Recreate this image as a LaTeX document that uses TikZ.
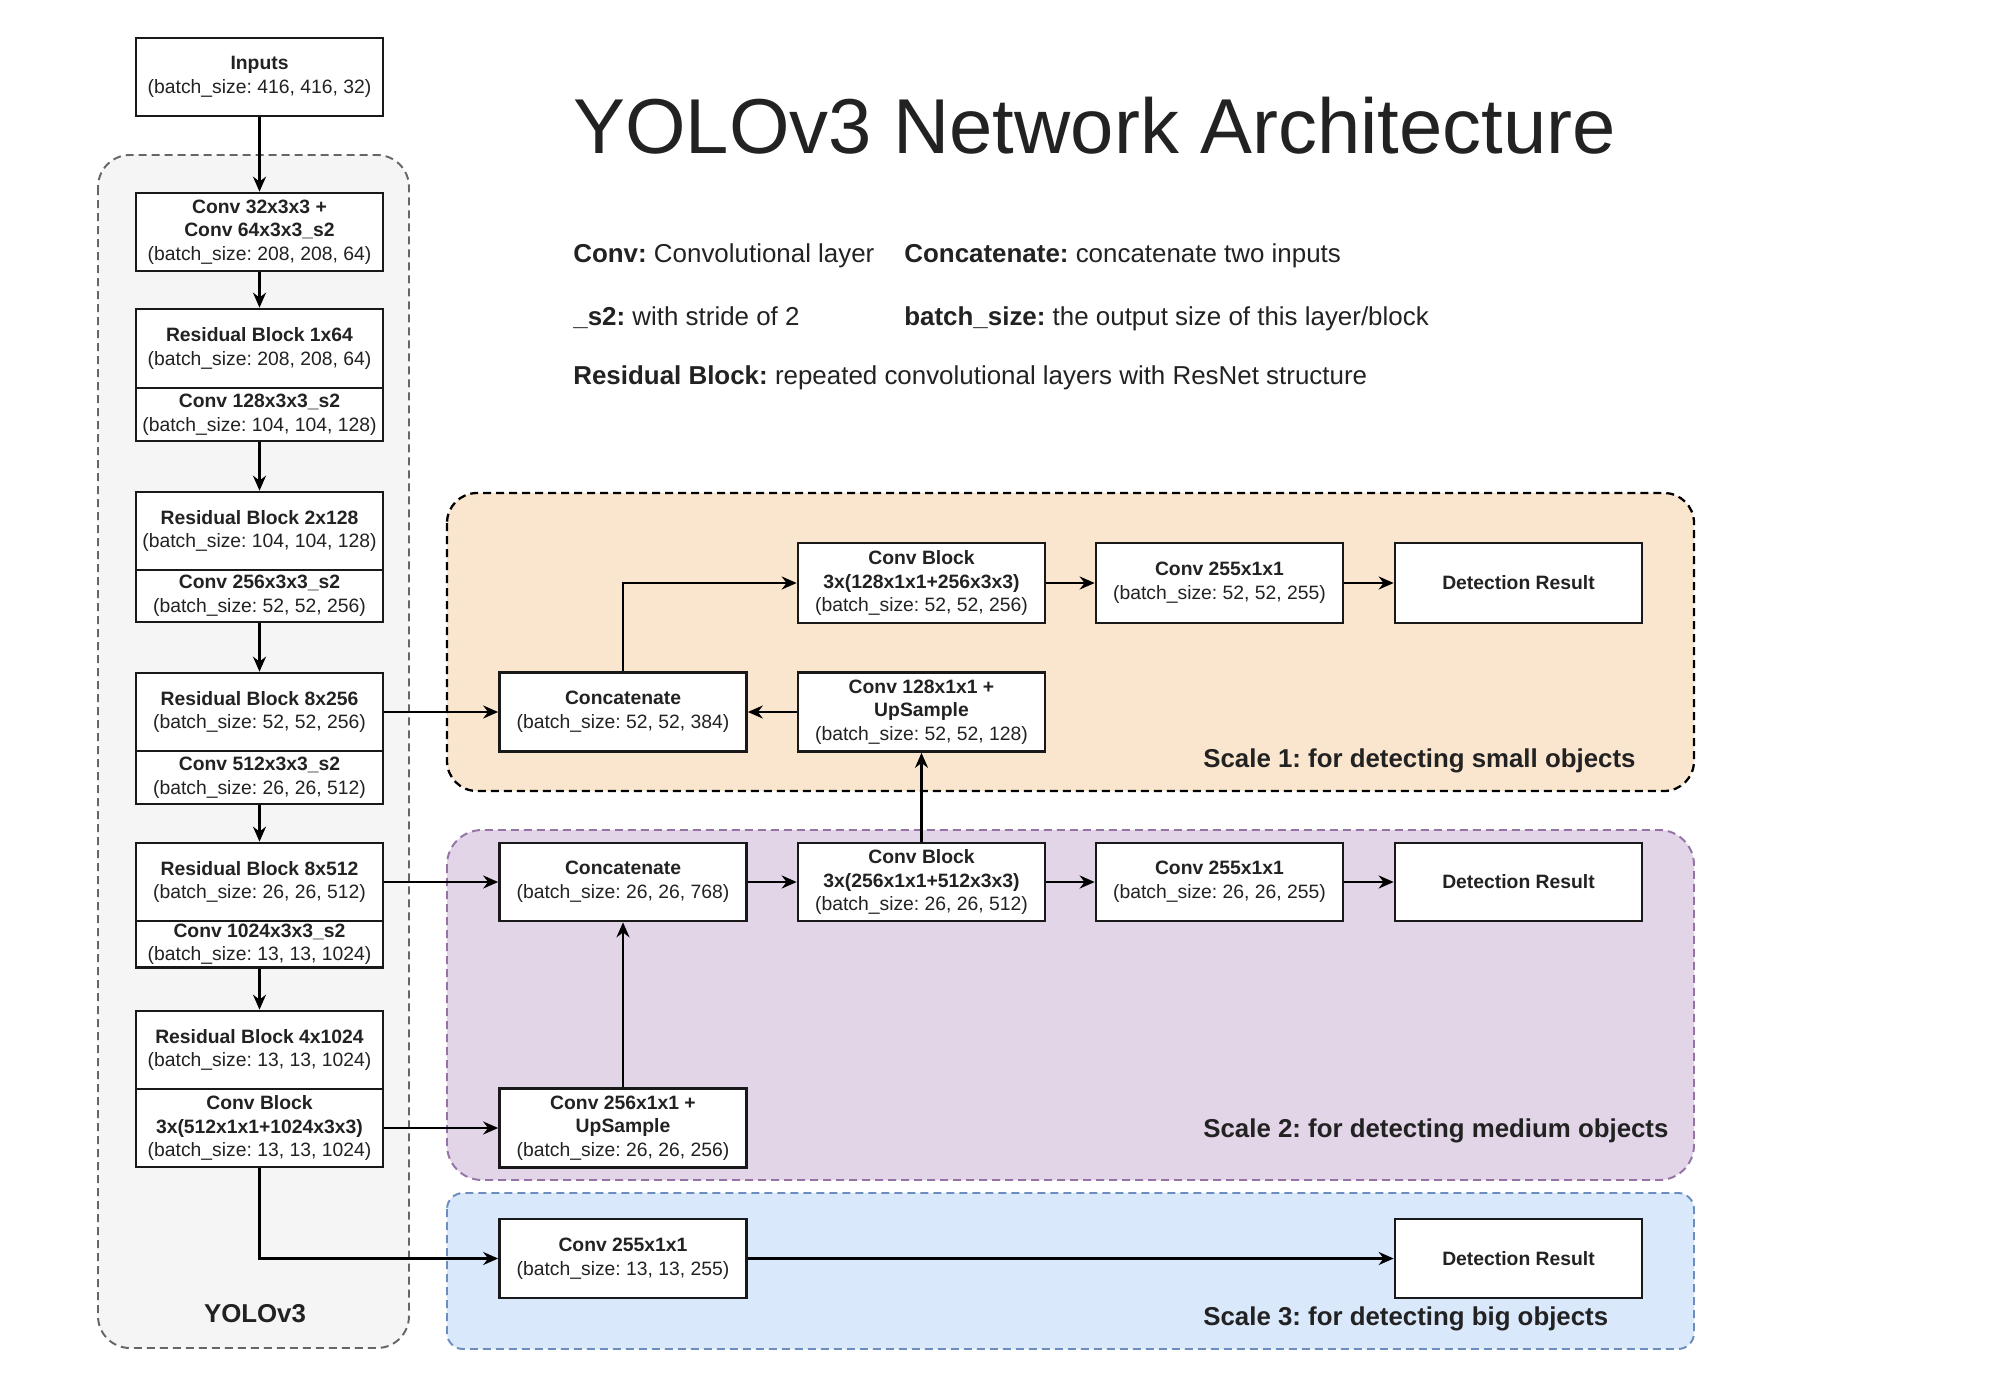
\documentclass[tikz,border=0pt]{standalone}
\usepackage{fontspec}
\setmainfont{Liberation Sans}
\usetikzlibrary{arrows.meta}
\frenchspacing

\definecolor{yolofill}{HTML}{F5F5F5}
\definecolor{yololine}{HTML}{666666}
\definecolor{smallfill}{HTML}{FAE6CF}
\definecolor{midfill}{HTML}{E1D5E7}
\definecolor{midline}{HTML}{9673A6}
\definecolor{bigfill}{HTML}{DAE8FC}
\definecolor{bigline}{HTML}{6C8EBF}
\definecolor{txt}{HTML}{222222}

\tikzset{
  box/.style={draw=black!90, line width=1.5pt, fill=white, align=center, inner sep=0pt,
    minimum width=49.4mm, minimum height=15.8mm, text=txt, font=\fontsize{11}{13.4}\selectfont},
  layer/.style={box, execute at begin node={\rule{0pt}{12.5pt}}},
  flow/.style={-{Stealth[length=3mm,width=2.6mm]}, line width=1.3pt},
  group/.style={dash pattern=on 1.6mm off 1mm, line width=1.1pt},
  legend/.style={anchor=base west, inner sep=0pt, text=txt, font=\fontsize{14.75}{17}\selectfont},
  scalelabel/.style={anchor=base west, inner sep=0pt, text=txt, font=\fontsize{14.7}{17}\selectfont\bfseries},
}

\begin{document}
\begin{tikzpicture}[x=0.2mm,y=-0.2mm]
%\draw[gray,very thin] (0,0) grid[step=100] (1990,1380); %background grid
\useasboundingbox (0,0) rectangle (1990,1380);
\fill[white] (0,0) rectangle (1990,1380);

% groups
\draw[group, draw=yololine, fill=yolofill, rounded corners=6.4mm] (98,155) rectangle (409,1348);
\draw[group, draw=black, fill=smallfill, line width=1.3pt, rounded corners=6mm] (447,493) rectangle (1694,791);
\draw[group, draw=midline, fill=midfill, rounded corners=7mm] (447,830) rectangle (1694,1180);
\draw[group, draw=bigline, fill=bigfill, rounded corners=3.2mm] (447,1193) rectangle (1694,1349);

% title and legend
\node[anchor=base west, inner sep=0pt, text=txt, font=\fontsize{44.3}{50}\selectfont] (title) at (573,153) {YOLOv3 Network Architecture};
\node[legend] (leg1) at (573,262) {\textbf{Conv:} Convolutional layer};
\node[legend] (leg2) at (904,262) {\textbf{Concatenate:} concatenate two inputs};
\node[legend] (leg3) at (573,325) {\textbf{\_s2:} with stride of 2};
\node[legend] (leg4) at (904,325) {\textbf{batch\_size:} the output size of this layer/block};
\node[legend] (leg5) at (573,384) {\textbf{Residual Block:} repeated convolutional layers with ResNet structure};

% backbone
\node[layer, minimum height=15.6mm] (inputs) at (259.5,77) {\textbf{Inputs}\\(batch\_size: 416, 416, 32)};
\node[layer, minimum height=15.6mm] (conv1) at (259.5,232) {\textbf{Conv 32x3x3 +}\\\textbf{Conv 64x3x3\_s2}\\(batch\_size: 208, 208, 64)};
\node[layer] (res1) at (259.5,348.5) {\textbf{Residual Block 1x64}\\(batch\_size: 208, 208, 64)};
\node[layer, minimum height=10.6mm] (conv2) at (259.5,414.5) {\textbf{Conv 128x3x3\_s2}\\(batch\_size: 104, 104, 128)};
\node[layer, minimum height=15.6mm] (res2) at (259.5,531) {\textbf{Residual Block 2x128}\\(batch\_size: 104, 104, 128)};
\node[layer, minimum height=10.4mm] (conv3) at (259.5,596) {\textbf{Conv 256x3x3\_s2}\\(batch\_size: 52, 52, 256)};
\node[layer, minimum height=15.6mm] (res3) at (259.5,712) {\textbf{Residual Block 8x256}\\(batch\_size: 52, 52, 256)};
\node[layer, minimum height=10.6mm] (conv4) at (259.5,777.5) {\textbf{Conv 512x3x3\_s2}\\(batch\_size: 26, 26, 512)};
\node[layer, minimum height=15.6mm] (res4) at (259.5,882) {\textbf{Residual Block 8x512}\\(batch\_size: 26, 26, 512)};
\node[layer, minimum height=9.3mm] (conv5) at (259.5,944.25) {\textbf{Conv 1024x3x3\_s2}\\(batch\_size: 13, 13, 1024)};
\node[layer, minimum height=15.6mm] (res5) at (259.5,1050) {\textbf{Residual Block 4x1024}\\(batch\_size: 13, 13, 1024)};
\node[layer, minimum height=15.6mm] (convblk) at (259.5,1128) {\textbf{Conv Block}\\\textbf{3x(512x1x1+1024x3x3)}\\(batch\_size: 13, 13, 1024)};
\node[anchor=base, inner sep=0pt, text=txt, font=\fontsize{14.7}{17}\selectfont\bfseries] (yolo) at (255,1322) {YOLOv3};

% scale 1
\node[layer, minimum height=16mm] (cb1) at (921.5,583) {\textbf{Conv Block}\\\textbf{3x(128x1x1+256x3x3)}\\(batch\_size: 52, 52, 256)};
\node[layer, minimum height=16mm] (head1) at (1219.5,583) {\textbf{Conv 255x1x1}\\(batch\_size: 52, 52, 255)};
\node[box, minimum height=16mm] (det1) at (1518.5,583) {\textbf{Detection Result}};
\node[layer] (cat1) at (623,712) {\textbf{Concatenate}\\(batch\_size: 52, 52, 384)};
\node[layer] (up1) at (921.5,712) {\textbf{Conv 128x1x1 +}\\\textbf{UpSample}\\(batch\_size: 52, 52, 128)};
\node[scalelabel] (scale1) at (1203,767) {Scale 1: for detecting small objects};

% scale 2
\node[layer, minimum height=15.6mm] (cat2) at (623,882) {\textbf{Concatenate}\\(batch\_size: 26, 26, 768)};
\node[layer, minimum height=15.6mm] (cb2) at (921.5,882) {\textbf{Conv Block}\\\textbf{3x(256x1x1+512x3x3)}\\(batch\_size: 26, 26, 512)};
\node[layer, minimum height=15.6mm] (head2) at (1219.5,882) {\textbf{Conv 255x1x1}\\(batch\_size: 26, 26, 255)};
\node[box, minimum height=15.6mm] (det2) at (1518.5,882) {\textbf{Detection Result}};
\node[layer] (up2) at (623,1128) {\textbf{Conv 256x1x1 +}\\\textbf{UpSample}\\(batch\_size: 26, 26, 256)};
\node[scalelabel] (scale2) at (1203,1137) {Scale 2: for detecting medium objects};

% scale 3
\node[layer] (head3) at (623,1258.5) {\textbf{Conv 255x1x1}\\(batch\_size: 13, 13, 255)};
\node[box] (det3) at (1518.5,1258.5) {\textbf{Detection Result}};
\node[scalelabel] (scale3) at (1203,1325) {Scale 3: for detecting big objects};

% connectors
\draw[flow] (inputs) -- (conv1);
\draw[flow] (conv1) -- (res1);
\draw[flow] (conv2) -- (res2);
\draw[flow] (conv3) -- (res3);
\draw[flow] (conv4) -- (res4);
\draw[flow] (conv5) -- (res5);

\draw[flow] (res3) -- (cat1);
\draw[flow] (res4) -- (cat2);
\draw[flow] (convblk) -- (up2);
\draw[flow] (convblk.south) |- (head3);

\draw[flow] (cat1.north) |- (cb1);
\draw[flow] (cb1) -- (head1);
\draw[flow] (head1) -- (det1);
\draw[flow] (up1) -- (cat1);
\draw[flow] (cb2) -- (up1);

\draw[flow] (cat2) -- (cb2);
\draw[flow] (cb2) -- (head2);
\draw[flow] (head2) -- (det2);
\draw[flow] (up2) -- (cat2);

\draw[flow] (head3) -- (det3);
\end{tikzpicture}
\end{document}
